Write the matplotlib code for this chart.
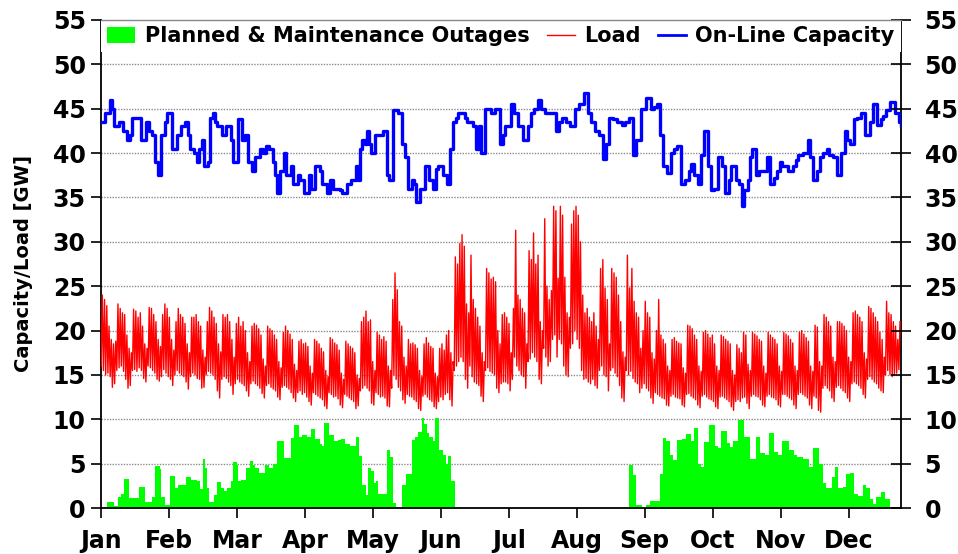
import numpy as np
import matplotlib.pyplot as plt
from matplotlib.patches import Patch
from matplotlib.lines import Line2D

plt.rcParams['font.family'] = ['DejaVu Sans']
plt.rcParams['font.weight'] = 'bold'

months = ['Jan', 'Feb', 'Mar', 'Apr', 'May', 'Jun',
          'Jul', 'Aug', 'Sep', 'Oct', 'Nov', 'Dec']

# daily peak / overnight minimum of system load [GW], one row per month
load_hi = [
    24.0, 23.5, 22.8, 20.5, 19.0, 18.5, 18.8, 23.0, 22.5, 22.0, 21.8, 19.5, 18.0, 17.5, 22.4, 22.2, 21.5, 22.0, 20.5, 18.5, 18.0, 22.6, 22.5, 21.8, 21.0, 19.0, 18.2, 21.8, 23.0, 22.5, 21.5,
    19.0, 17.8, 21.0, 22.5, 21.8, 21.5, 20.8, 18.5, 17.5, 21.5, 21.5, 21.8, 21.0, 20.5, 17.8, 17.0, 21.0, 22.6, 22.2, 21.5, 20.8, 18.5, 17.6, 21.8, 21.5, 21.8, 21.0, 19.0,
    17.0, 20.8, 21.5, 20.5, 21.0, 20.0, 17.5, 16.5, 20.5, 20.8, 20.6, 20.2, 19.5, 16.8, 16.0, 20.5, 20.2, 20.0, 19.5, 19.0, 16.5, 15.8, 19.8, 20.5, 20.0, 19.6, 19.0, 16.2, 15.5, 18.8, 19.0,
    18.5, 18.6, 18.2, 16.0, 15.2, 19.0, 18.8, 18.5, 18.0, 17.6, 15.5, 14.8, 19.2, 19.0, 18.6, 18.4, 17.8, 15.2, 14.5, 18.8, 18.5, 18.2, 18.0, 17.5, 15.0, 14.6, 21.0, 21.5, 22.2, 21.0,
    21.2, 16.5, 15.5, 19.8, 19.5, 19.0, 19.3, 18.8, 16.0, 15.5, 23.5, 26.5, 24.6, 21.0, 20.5, 17.0, 16.0, 19.0, 18.5, 18.6, 18.4, 18.0, 15.5, 14.8, 18.5, 19.2, 18.6, 18.2, 18.0, 15.2, 14.8,
    18.0, 18.5, 17.8, 19.5, 20.0, 17.5, 16.5, 28.3, 27.5, 29.8, 30.8, 29.5, 23.0, 22.0, 28.5, 23.5, 22.5, 21.5, 20.5, 17.5, 16.5, 27.0, 26.5, 25.8, 26.0, 25.5, 20.0, 18.5, 21.8, 22.0,
    21.5, 20.8, 17.5, 22.5, 31.3, 24.0, 23.5, 22.5, 22.0, 18.5, 29.0, 28.0, 31.0, 27.5, 28.5, 21.0, 20.0, 32.6, 25.0, 23.5, 24.5, 34.0, 33.5, 25.9, 34.0, 33.0, 26.0, 22.0, 21.5, 32.0, 33.5,
    34.0, 33.0, 30.0, 24.0, 22.0, 22.5, 21.5, 21.0, 22.0, 20.5, 19.0, 27.0, 28.0, 24.8, 23.5, 18.5, 27.0, 26.5, 26.0, 24.0, 21.0, 17.6, 17.0, 28.5, 24.8, 27.0, 23.3, 22.0, 21.5, 18.0, 20.0,
    23.3, 22.0, 21.5, 17.5, 16.8, 20.0, 23.5, 19.5, 19.0, 18.5, 16.0, 15.5, 19.0, 19.2, 18.8, 18.6, 18.5, 15.8, 15.2, 20.6, 20.5, 20.2, 19.5, 19.0, 16.0, 15.4, 19.8, 20.0, 19.6, 19.2,
    19.5, 18.5, 16.0, 15.5, 19.5, 19.3, 19.0, 18.8, 18.5, 15.5, 15.0, 18.4, 18.0, 17.5, 19.8, 19.5, 16.2, 15.5, 19.8, 19.6, 19.4, 19.0, 18.8, 16.0, 15.2, 19.8, 19.5, 19.2, 19.0, 18.5, 16.0,
    15.4, 19.8, 19.6, 19.4, 19.0, 18.6, 16.0, 15.5, 19.8, 20.0, 19.6, 19.2, 18.8, 16.0, 15.4, 20.6, 20.4, 16.5, 16.0, 21.8, 21.5, 21.0, 20.5, 17.0, 16.5, 21.0, 21.0, 20.8, 20.5, 20.0,
    17.0, 16.5, 22.0, 22.2, 21.8, 21.5, 21.0, 17.5, 16.8, 22.7, 22.5, 22.0, 21.5, 21.0, 19.8, 19.0, 17.0, 23.3, 22.0, 21.8, 21.0, 20.5, 19.0, 21.0,
]
load_lo = [
    16.0, 15.5, 15.0, 15.2, 14.8, 13.6, 14.0, 15.5, 15.8, 16.0, 15.4, 14.5, 13.5, 13.8, 15.5, 15.6, 15.4, 15.8, 15.5, 14.6, 14.2, 16.0, 15.8, 15.5, 15.2, 14.5, 14.3, 14.8, 15.6, 15.2, 14.8,
    14.5, 13.8, 15.0, 15.5, 15.2, 15.0, 14.8, 14.2, 13.4, 14.8, 15.2, 15.0, 14.6, 14.5, 13.5, 13.6, 15.0, 15.4, 15.2, 15.0, 14.5, 13.2, 12.4, 14.5, 14.8, 14.6, 14.2, 13.8,
    12.8, 14.0, 14.5, 14.2, 14.0, 13.8, 13.2, 12.6, 14.0, 14.3, 14.0, 13.8, 13.5, 12.9, 12.4, 13.8, 14.0, 13.6, 13.4, 13.2, 12.5, 12.2, 13.6, 13.8, 13.6, 13.4, 13.0, 12.4, 12.0, 13.0, 13.2,
    12.8, 13.0, 12.5, 12.0, 11.6, 13.0, 12.8, 12.6, 12.4, 12.2, 11.5, 11.2, 13.0, 12.8, 12.5, 12.6, 12.3, 11.6, 11.3, 12.8, 12.6, 12.4, 12.2, 12.0, 11.2, 11.5, 13.2, 13.5, 13.8, 13.5,
    13.2, 11.8, 11.6, 13.0, 12.8, 12.5, 12.6, 12.4, 11.5, 11.4, 13.5, 15.0, 14.5, 13.6, 13.2, 12.2, 11.8, 12.8, 12.6, 12.5, 12.2, 12.0, 11.2, 11.0, 12.6, 12.8, 12.5, 12.2, 12.0, 11.4, 11.2,
    12.0, 12.5, 12.2, 12.8, 13.0, 12.2, 11.5, 15.5, 16.0, 16.5, 17.0, 16.5, 14.5, 13.5, 16.0, 14.8, 14.2, 14.0, 13.8, 12.6, 12.0, 15.5, 15.8, 15.4, 15.2, 15.0, 13.5, 13.0, 14.0, 14.2,
    14.2, 14.0, 13.2, 14.5, 17.0, 16.0, 15.5, 15.0, 14.8, 13.5, 16.5, 16.8, 17.5, 17.0, 16.5, 14.5, 14.0, 18.0, 17.0, 16.0, 16.5, 19.0, 19.5, 17.0, 19.0, 18.5, 16.0, 15.0, 14.8, 18.0, 18.5,
    20.0, 19.0, 18.0, 15.5, 14.5, 14.6, 14.2, 14.0, 14.5, 13.8, 13.5, 15.5, 16.0, 15.0, 14.8, 13.2, 15.5, 15.8, 15.2, 14.8, 13.8, 12.4, 12.0, 15.5, 15.0, 15.4, 14.6, 14.2, 14.0, 13.0, 13.5,
    14.0, 13.5, 13.2, 12.4, 11.8, 13.0, 12.8, 12.6, 12.4, 12.3, 11.6, 11.5, 12.6, 12.8, 12.5, 12.4, 12.3, 11.6, 11.4, 12.8, 12.9, 12.6, 12.4, 12.2, 11.6, 11.3, 12.6, 12.8, 12.5, 12.3,
    12.2, 12.0, 11.4, 11.2, 12.5, 12.6, 12.4, 12.2, 12.0, 11.4, 11.0, 12.0, 12.2, 12.0, 12.4, 12.5, 11.8, 11.2, 12.6, 12.8, 12.6, 12.5, 12.2, 11.6, 11.4, 12.6, 12.8, 12.5, 12.4, 12.2, 11.6,
    11.4, 12.8, 12.8, 12.6, 12.4, 12.2, 11.6, 11.2, 12.8, 13.0, 12.8, 12.6, 12.4, 11.6, 11.2, 12.6, 12.4, 11.0, 10.8, 13.5, 13.8, 13.5, 13.2, 12.4, 12.0, 13.6, 13.8, 13.5, 13.2, 13.0,
    12.4, 12.0, 14.0, 14.2, 14.0, 13.8, 13.5, 12.8, 12.4, 14.5, 14.8, 14.5, 14.2, 14.0, 13.5, 13.2, 13.0, 15.0, 15.5, 15.0, 14.8, 15.0, 15.2, 15.6,
]

# on-line capacity [GW], value holds from the given day onward
cap_day = [0, 2, 4, 5, 6, 8, 10, 11.6, 13, 14, 16, 18, 20, 21.5, 23, 24, 25.5, 27, 28.5, 29.5,
           31, 32, 34, 36, 37.5, 39, 40, 41.5, 43, 44, 45, 46, 48, 49, 50, 51, 52, 54, 56, 58,
           59, 61, 61.5, 63, 64.5, 66, 67.5, 69, 71, 72.5, 74, 75, 77, 78, 79, 80, 82, 83, 85, 86,
           88, 89, 91, 93, 94, 96, 98, 99, 101, 102.5, 104, 105.5, 107, 108, 110, 112, 114, 115, 116, 117,
           118, 119, 120, 121, 122.5, 124, 126, 127, 128, 129, 130.5, 133, 134.5, 136, 137.5, 139, 140, 141, 143, 145,
           147, 148.5, 150, 151, 153, 155, 156, 157.5, 159, 160, 161.5, 163, 164, 166.5, 168, 169, 170, 172, 174.5, 176.5,
           178.5, 180, 181, 183.5, 185, 186.5, 189, 191, 192.5, 194, 195.5, 197, 198.5, 201, 203.5, 205, 206.5, 208, 210, 212,
           214, 216, 218, 219.5, 221, 223, 224.5, 226, 227.5, 229, 231, 233, 234.5, 236.5, 238, 239.5, 241.5, 244, 246, 247.5,
           249, 250, 251.5, 253.5, 255, 256.5, 258, 259.5, 261.5, 263, 264, 265.5, 267, 268.5, 270, 271.5, 273, 274.5, 276, 278,
           279.5, 281, 282, 284, 285.5, 287, 288, 289.5, 290.5, 291.5, 293, 294.5, 296, 298, 299.5, 301, 302.5, 304, 305, 307.5,
           309.5, 311, 312, 314, 316.5, 317.5, 318.5, 320.5, 322, 323, 325, 326, 327.5, 329.5, 331, 333, 334, 335, 337, 338.5,
           340, 342, 344, 345.5, 347.5, 349, 350, 351.5, 353, 355.5, 357, 358]
cap_gw = [43.5, 44.5, 46.0, 45.0, 43.0, 43.5, 42.5, 41.5, 42.0, 44.0, 44.0, 41.5, 43.5, 42.5, 42.0, 39.0, 37.5, 42.0, 43.5, 44.5,
          44.5, 40.5, 42.0, 43.0, 43.5, 42.0, 40.5, 40.0, 39.0, 40.5, 41.5, 38.5, 39.0, 44.0, 44.5, 43.5, 43.0, 42.0, 43.0, 41.5,
          39.0, 39.0, 43.8, 41.5, 42.0, 39.0, 38.0, 39.5, 40.5, 40.0, 40.8, 40.5, 39.0, 37.5, 35.5, 38.0, 40.0, 37.5, 38.5, 36.5,
          37.5, 37.0, 35.5, 37.5, 36.0, 38.5, 38.0, 36.5, 35.5, 37.0, 36.0, 36.0, 35.8, 35.5, 36.5, 37.0, 38.5, 37.0, 40.5, 41.5,
          41.0, 42.5, 41.0, 40.0, 42.0, 42.0, 42.5, 42.5, 37.5, 37.0, 44.8, 44.5, 41.0, 39.5, 36.0, 37.0, 36.5, 34.5, 36.0, 38.5,
          37.0, 36.0, 38.2, 38.5, 37.5, 36.5, 40.5, 43.5, 44.0, 44.5, 44.5, 44.0, 43.5, 43.0, 40.5, 43.0, 40.0, 45.0, 44.5, 45.0,
          41.0, 42.0, 43.0, 45.5, 44.5, 43.0, 41.5, 43.0, 44.5, 45.0, 46.0, 45.0, 44.5, 44.5, 42.5, 43.5, 44.0, 43.5, 43.0, 45.0,
          45.5, 46.8, 44.5, 43.5, 42.5, 42.0, 39.3, 41.0, 44.0, 43.8, 43.5, 43.2, 43.5, 44.0, 39.8, 41.5, 45.0, 46.2, 45.0, 45.2,
          45.5, 42.0, 38.5, 37.8, 40.0, 40.5, 40.8, 36.5, 37.0, 38.0, 38.8, 37.5, 36.5, 39.8, 42.5, 38.5, 35.8, 36.0, 39.5, 38.5,
          35.5, 37.0, 38.5, 37.0, 36.5, 34.0, 35.8, 37.0, 39.5, 40.5, 37.5, 38.0, 38.0, 39.5, 36.5, 37.2, 38.0, 39.0, 38.5, 38.0,
          38.5, 39.2, 39.8, 40.0, 41.5, 39.5, 37.0, 38.0, 39.5, 40.0, 40.5, 39.8, 39.5, 37.5, 40.0, 42.5, 41.5, 41.0, 43.8, 44.0,
          44.5, 42.0, 43.5, 45.5, 43.2, 43.8, 44.2, 44.8, 45.7, 44.5, 43.5, 43.0]

# planned & maintenance outages [GW], value holds from the given day onward
out_day = [0, 2.5, 6, 7.5, 9, 10.5, 12.5, 17, 19.5, 23, 24, 26.5, 27, 28.5, 31, 33, 34.5, 38, 40.5, 43,
           44.5, 45.5, 46.5, 47.5, 48.5, 50.5, 52, 53.5, 55, 56.5, 58, 59, 61, 61.5, 62.5, 65, 66.5, 68, 69, 70.5,
           72, 73.5, 75, 77, 79, 81, 82, 85, 86.5, 88.5, 90, 92, 94, 96, 98, 99, 100, 102, 104.5, 106,
           107.5, 109, 111.5, 114, 115.5, 117, 118.5, 119.5, 121, 122, 123, 124, 128, 129.5, 130.5, 132, 134.5, 136.5, 139, 140.5,
           142, 143.5, 144.5, 146, 147, 148.5, 149.5, 151.5, 153, 154.5, 155.5, 156.5, 158.5, 236.5, 238, 239.5, 242, 244, 245.5, 250,
           251.5, 253, 254.5, 256, 258, 260, 262, 264, 265.5, 267, 268.5, 270, 272, 275, 276, 277.5, 280, 281.5, 283, 285,
           288, 290.5, 293, 295, 297, 299, 301, 303, 305, 308, 310, 311.5, 314, 317, 318.5, 321.5, 323, 324.5, 327, 328.5,
           330, 332, 333.5, 335, 337, 339, 341, 342.5, 344, 345.5, 347, 349, 351, 353, 358]
out_gw = [0.0, 0.7, 0.2, 1.2, 1.6, 3.3, 1.1, 2.4, 0.7, 1.2, 4.7, 4.4, 1.2, 0.3, 3.6, 2.2, 2.6, 3.5, 3.2, 3.0,
          2.1, 5.5, 4.5, 2.2, 0.7, 1.5, 2.9, 2.2, 1.9, 2.3, 3.0, 5.2, 4.8, 3.0, 3.2, 4.5, 5.3, 4.8, 4.5, 4.0,
          3.9, 4.8, 4.5, 5.0, 7.6, 7.5, 5.6, 7.9, 9.3, 8.0, 8.2, 8.0, 8.9, 7.8, 7.2, 7.0, 9.6, 8.2, 7.5, 7.7,
          7.8, 7.2, 7.0, 8.0, 5.9, 2.6, 1.5, 4.5, 4.2, 2.8, 3.1, 1.6, 6.5, 5.8, 0.6, 0.0, 2.6, 3.8, 7.7, 8.0,
          8.6, 10.2, 9.5, 8.5, 8.0, 7.5, 10.2, 6.5, 6.0, 5.0, 5.9, 3.0, 0.0, 4.8, 3.7, 0.3, 0.0, 0.3, 0.8, 3.8,
          7.9, 7.5, 6.0, 5.4, 7.7, 7.8, 8.3, 7.5, 9.0, 5.0, 4.6, 7.4, 9.3, 7.0, 6.8, 8.7, 7.3, 6.9, 7.5, 9.9,
          8.0, 5.5, 8.0, 6.2, 6.0, 8.4, 6.3, 6.0, 7.6, 6.5, 6.0, 5.8, 5.5, 4.6, 6.8, 5.0, 2.8, 2.2, 3.5, 4.6,
          2.3, 2.4, 3.8, 3.9, 1.6, 1.4, 2.6, 2.3, 1.0, 0.5, 1.2, 1.8, 1.0, 0.0, 0.0]

# load trace: overnight low then daytime peak for every day
days = np.arange(len(load_hi))
load_t = np.column_stack([days + 0.1, days + 0.6]).ravel()
load_v = np.column_stack([load_lo, load_hi]).ravel()

fig = plt.figure(figsize=(9.58, 5.54), dpi=100)
ax = fig.add_axes([0.1054, 0.083, 0.835, 0.881])

ax.fill_between(out_day, out_gw, step='post', color='#00ff00', lw=0, zorder=2)
ax.plot(load_t, load_v, color='#ff0000', lw=1.0, zorder=3)
ax.step(cap_day, cap_gw, where='post', color='#0000ff', lw=2.4, zorder=4)

ax.set_xlim(0, 358)
ax.set_ylim(0, 55)
ax.set_yticks(np.arange(0, 56, 5))
ax.set_xticks(np.arange(12) * 365 / 12)
ax.set_xticklabels(months)
ax.yaxis.grid(True, color='#8c8c8c', lw=1.0, ls=(0, (1, 1)), zorder=0)
ax.set_axisbelow(True)

ax.tick_params(axis='both', direction='out', length=7, width=1.2, labelsize=17)
ax.tick_params(axis='x', pad=8)
ax.tick_params(axis='y', pad=4)
for s in ['left', 'bottom', 'right']:
    ax.spines[s].set_linewidth(1.3)
ax.spines['top'].set_visible(False)

# right-hand copy of the GW scale
ax2 = ax.twinx()
ax2.set_ylim(0, 55)
ax2.set_yticks(np.arange(0, 56, 5))
ax2.tick_params(axis='y', direction='inout', length=14, width=1.2, labelsize=17, pad=10)
for s in ['left', 'right', 'bottom']:
    ax2.spines[s].set_visible(False)
ax2.spines['top'].set_color('#888888')
ax2.spines['top'].set_linewidth(1.0)
ax2.spines['top'].set_zorder(12)

ax.set_ylabel('Capacity/Load [GW]', fontsize=14, fontweight='bold', labelpad=14)

handles = [Patch(facecolor='#00ff00', edgecolor='none'),
           Line2D([], [], color='#ff0000', lw=1.0),
           Line2D([], [], color='#0000ff', lw=2.0)]
labels = ['Planned & Maintenance Outages', 'Load', 'On-Line Capacity']
leg = ax2.legend(handles, labels, loc='upper left', ncol=3, fontsize=15,
                 bbox_to_anchor=(0, 0, 1, 1), mode='expand',
                 frameon=True, facecolor='white', edgecolor='none', framealpha=1,
                 borderaxespad=0.0, borderpad=0.3, handlelength=1.35, handleheight=0.8,
                 handletextpad=0.45, columnspacing=0.5, fancybox=False)
leg.set_zorder(10)

fig.savefig('out.png', dpi=100)
